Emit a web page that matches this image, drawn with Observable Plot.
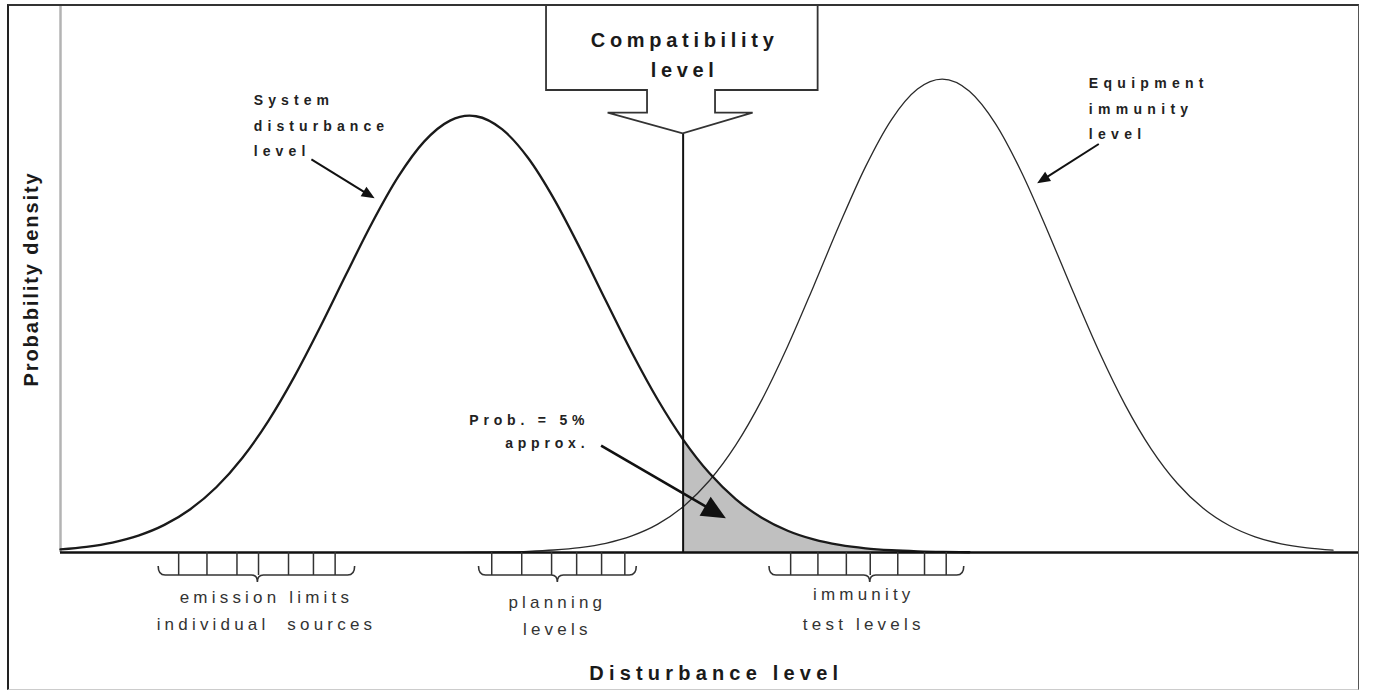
<!DOCTYPE html>
<html><head><meta charset="utf-8">
<script src="https://cdn.jsdelivr.net/npm/d3@7"></script>
<script src="https://cdn.jsdelivr.net/npm/@observablehq/plot@0.6"></script>
<style>
html,body{margin:0;padding:0;background:#fff;overflow:hidden;}
#wrap{position:relative;width:1381px;height:690px;background:#fff;}
#chart{position:absolute;left:0;top:0;}
#frame{position:absolute;left:7px;top:4px;width:1349px;height:683px;border-left:2px solid #222;border-top:2px solid #333;border-right:1.5px solid #555;border-bottom:1px solid #ccc;pointer-events:none;}
svg{display:block;}
</style></head>
<body><div id="wrap"><div id="chart"></div><div id="frame"></div></div>
<script>
// ---- data (x = disturbance level, y = relative probability density) ----
const systemX = [0,2,4,6,8,10,12,14,16,18,20,22,24,26,28,30,31.5,32,34,36,38,40,42,44,46,47.95,50,52,54,56,58,60,62,64,66,68,70];
const systemY = [0.0056,0.0103,0.0182,0.0310,0.0506,0.0793,0.1195,0.1731,0.2407,0.3217,0.4130,0.5095,0.6039,0.6878,0.7525,0.7910,0.8000,0.7990,0.7753,0.7229,0.6477,0.5575,0.4610,0.3663,0.2797,0.2068,0.1445,0.0979,0.0637,0.0398,0.0239,0.0138,0.0076,0.0041,0.0021,0.0010,0.0005];
const immunityX = [30,32,34,36,38,40,42,44,46,48,50,52,54,56,58,60,62,64,66,67.9,70,72,74,76,78,80,82,84,86,88,90,92,94,96,98];
const immunityY = [0.0002,0.0005,0.0010,0.0022,0.0046,0.0090,0.0169,0.0304,0.0519,0.0849,0.1323,0.1966,0.2790,0.3777,0.4878,0.6011,0.7068,0.7930,0.8488,0.8670,0.8448,0.7855,0.6969,0.5899,0.4765,0.3672,0.2700,0.1894,0.1268,0.0810,0.0494,0.0287,0.0159,0.0084,0.0043];
const compatibilityLevel = 47.95;
const emissionTicks = [9.1, 11.28, 13.59, 15.25, 17.56, 19.48, 21.15];
const planningTicks = [33.21, 35.52, 37.82, 39.75, 41.67, 43.46];
const immunityTicks = [56.23, 58.33, 60.52, 62.36, 64.48, 66.54, 68.21];
const labels = {
  compat: ["Compatibility", "level"],
  system: ["System", "disturbance", "level"],
  equipment: ["Equipment", "immunity", "level"],
  prob: ["Prob. = 5%", "approx."],
  emission: ["emission limits", "individual  sources"],
  planning: ["planning", "levels"],
  immunityTest: ["immunity", "test levels"],
  xTitle: "Disturbance level",
  yTitle: "Probability density"
};

// ---- build tables ----
const system = systemX.map((x, i) => ({x, y: systemY[i]}));
const immunity = immunityX.map((x, i) => ({x, y: immunityY[i]}));
const tail = system.filter(d => d.x >= compatibilityLevel);

// ---- annotation layout (not data) ----
const FONT = "'Liberation Sans', Arial, Helvetica, sans-serif";
const calloutTip = 0.767;        // y of the callout arrow tip
const tickEnd = -0.0421;         // bracket bar below the axis
const brackets = [
  {a: 7.56, b: 22.69, t: 15.2, lab: labels.emission, cx: 15.9, y1: 51, y2: 78},
  {a: 32.23, b: 44.38, t: 38.3, lab: labels.planning, cx: 38.3, y1: 56, y2: 83},
  {a: 54.6, b: 69.6, t: 62.36, lab: labels.immunityTest, cx: 61.9, y1: 48, y2: 78}
];

function annotations(index, scales) {
  const X = scales.x, Y = scales.y;
  const ns = "http://www.w3.org/2000/svg";
  const g = document.createElementNS(ns, "g");
  const el = (tag, attrs, parent = g) => {
    const e = document.createElementNS(ns, tag);
    for (const k in attrs) e.setAttribute(k, attrs[k]);
    parent.appendChild(e);
    return e;
  };
  const text = (x, y, lines, o) => {
    const t = el("text", {x, y, "text-anchor": o.anchor || "start",
      style: `font-family:${FONT};font-size:${o.size}px;font-weight:${o.weight || "normal"};letter-spacing:${o.ls || 0}px;fill:${o.fill || "#222"}`});
    lines.forEach((s, i) => {
      const ts = el("tspan", {x, y: y + i * (o.lh || 0)}, t);
      ts.textContent = s;
    });
    return t;
  };
  const arrow = (x1, y1, x2, y2, len, hw, sw) => {
    const dx = x2 - x1, dy = y2 - y1, L = Math.hypot(dx, dy);
    const ux = dx / L, uy = dy / L;
    const bx = x2 - ux * len, by = y2 - uy * len;
    el("line", {x1, y1, x2: bx + ux * 2, y2: by + uy * 2, stroke: "#111", "stroke-width": sw});
    el("path", {d: `M${x2},${y2}L${bx - uy * hw},${by + ux * hw}L${bx + uy * hw},${by - ux * hw}Z`, fill: "#111"});
  };

  // compatibility callout
  const cx = X(compatibilityLevel), top = Y(1);
  el("path", {
    d: `M${cx - 136.6},${top - 1}V${top + 84}H${cx - 35.6}V${top + 106.7}H${cx - 75}L${cx},${top + 127.3}L${cx + 70},${top + 106.7}H${cx + 32.4}V${top + 84}H${cx + 135}V${top - 1}`,
    fill: "#fff", stroke: "#333", "stroke-width": 1.8
  });
  text(cx + 2, top + 40.5, labels.compat, {size: 20, weight: "bold", ls: 4.7, anchor: "middle", lh: 30.5, fill: "#1a1a1a"});

  // curve labels and arrows
  text(X(14.92), Y(0.8178), labels.system, {size: 14, weight: "bold", ls: 5.1, lh: 25.3});
  arrow(X(19.36), Y(0.7192), X(24.23), Y(0.6478), 13, 5.5, 2);
  text(X(79.23), Y(0.8498), labels.equipment, {size: 14, weight: "bold", ls: 5.3, lh: 25.5});
  arrow(X(80.0), Y(0.7473), X(75.25), Y(0.6753), 13, 5.5, 2);
  text(X(40.38) + 5, Y(0.2326), labels.prob, {size: 14, weight: "bold", ls: 4.8, lh: 23, anchor: "end"});
  arrow(X(41.67), Y(0.1947), X(51.28), Y(0.0617), 24, 11, 2.6);

  // brackets under the axis
  const y0 = Y(0), yb = y0 + 23;
  for (const br of brackets) {
    const xa = X(br.a), xb = X(br.b), xt = X(br.t);
    el("path", {
      d: `M${xa},${y0 + 14}Q${xa},${yb} ${xa + 7},${yb}H${xt - 6}Q${xt},${yb} ${xt},${yb + 7}Q${xt},${yb} ${xt + 6},${yb}H${xb - 7}Q${xb},${yb} ${xb},${y0 + 14}`,
      fill: "none", stroke: "#333", "stroke-width": 1.6
    });
    text(X(br.cx), y0 + br.y1, br.lab, {size: 17, ls: 4.2, anchor: "middle", lh: br.y2 - br.y1, fill: "#333"});
  }

  // axis titles
  text(X(50.54), y0 + 128, [labels.xTitle], {size: 20, weight: "bold", ls: 5.2, anchor: "middle", fill: "#1a1a1a"});
  const yt = text(0, 0, [labels.yTitle], {size: 20, weight: "bold", ls: 1.9, anchor: "middle", fill: "#1a1a1a"});
  yt.setAttribute("transform", `translate(38,${(Y(0) + Y(1)) / 2 + 0}) rotate(-90)`);
  return g;
}

const chart = Plot.plot({
  width: 1381,
  height: 690,
  marginLeft: 60,
  marginRight: 22.5,
  marginTop: 6,
  marginBottom: 138,
  x: {domain: [0, 100], axis: null},
  y: {domain: [0, 1], axis: null},
  style: {background: "transparent", overflow: "visible"},
  marks: [
    Plot.areaY(tail, {x: "x", y: "y", fill: "#c0c0c0", curve: "monotone-x"}),
    Plot.ruleX([0], {stroke: "#b3b3b3", strokeWidth: 2.5}),
    Plot.line(immunity, {x: "x", y: "y", stroke: "#2a2a2a", strokeWidth: 1.3, curve: "monotone-x"}),
    Plot.line(system, {x: "x", y: "y", stroke: "#1a1a1a", strokeWidth: 2.3, curve: "monotone-x"}),
    Plot.ruleX([compatibilityLevel], {y1: 0, y2: calloutTip, stroke: "#111", strokeWidth: 2}),
    Plot.ruleY([0], {stroke: "#111", strokeWidth: 2.6}),
    Plot.ruleX(emissionTicks, {y1: 0, y2: tickEnd, stroke: "#333", strokeWidth: 1.5}),
    Plot.ruleX(planningTicks, {y1: 0, y2: tickEnd, stroke: "#333", strokeWidth: 1.5}),
    Plot.ruleX(immunityTicks, {y1: 0, y2: tickEnd, stroke: "#333", strokeWidth: 1.5}),
    annotations
  ]
});
document.getElementById("chart").appendChild(chart);
</script></body></html>
